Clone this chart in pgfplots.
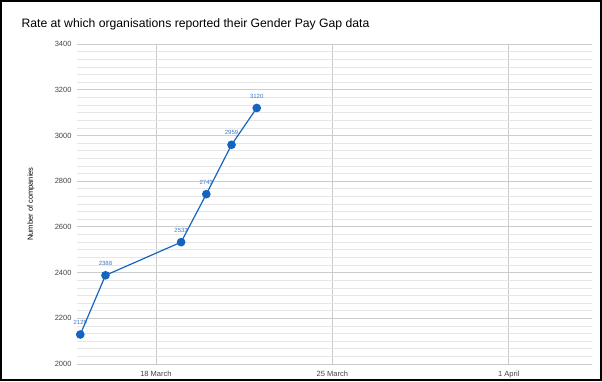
\documentclass[border=0pt]{standalone}
\usepackage{pgfplots}
\pgfplotsset{compat=1.18}
\usepackage{fontspec}
\setmainfont{Liberation Sans}
\definecolor{ptblue}{RGB}{21,101,192}
\definecolor{lblblue}{RGB}{60,120,200}
\definecolor{majgrid}{RGB}{204,204,204}
\definecolor{mingrid}{RGB}{230,230,230}
\definecolor{ticktxt}{RGB}{68,68,68}
\begin{document}
\begin{tikzpicture}
\begin{axis}[
  scale only axis,
  width=515pt, height=320pt,
  xmin=14.87, xmax=35.3,
  ymin=2000, ymax=3400,
  xtick={18,25,32},
  xticklabels={18 March,25 March,1 April},
  ytick={2000,2200,...,3400},
  minor y tick num=5,
  axis line style={draw=none},
  major tick length=0pt, minor tick length=0pt,
  grid=both,
  major grid style={majgrid, line width=0.8pt},
  minor grid style={mingrid, line width=0.6pt},
  tick label style={font=\fontsize{7.5}{9}\selectfont, text=ticktxt},
  /pgf/number format/assume math mode=true,
  /pgf/number format/1000 sep={},
  yticklabel style={xshift=-2pt},
  xticklabel style={yshift=-4pt},
  clip=false,
]
\addplot[color=ptblue, line width=1.2pt, mark=*, mark size=3.7pt, mark options={fill=ptblue, draw=ptblue},
  nodes near coords, point meta=explicit symbolic,
  every node near coord/.style={font=\fontsize{6}{7}\selectfont, text=lblblue, anchor=south, yshift=6pt}]
  table[meta=lab] {
x y lab
15 2129 2129
16 2388 2388
19 2533 2533
20 2743 2743
21 2959 2959
22 3120 3120
};
\end{axis}
\node[rotate=90, font=\fontsize{7.5}{9}\selectfont] at ([xshift=-46pt]current axis.west) {Number of companies};
\node[anchor=west, font=\fontsize{12.2}{15}\selectfont] at ([shift={(-59pt,20pt)}]current axis.north west) {Rate at which organisations reported their Gender Pay Gap data};
\draw[line width=2pt] ([shift={(-76pt,-16pt)}]current axis.south west) rectangle ([shift={(9pt,43pt)}]current axis.north east);
\end{tikzpicture}
\end{document}
